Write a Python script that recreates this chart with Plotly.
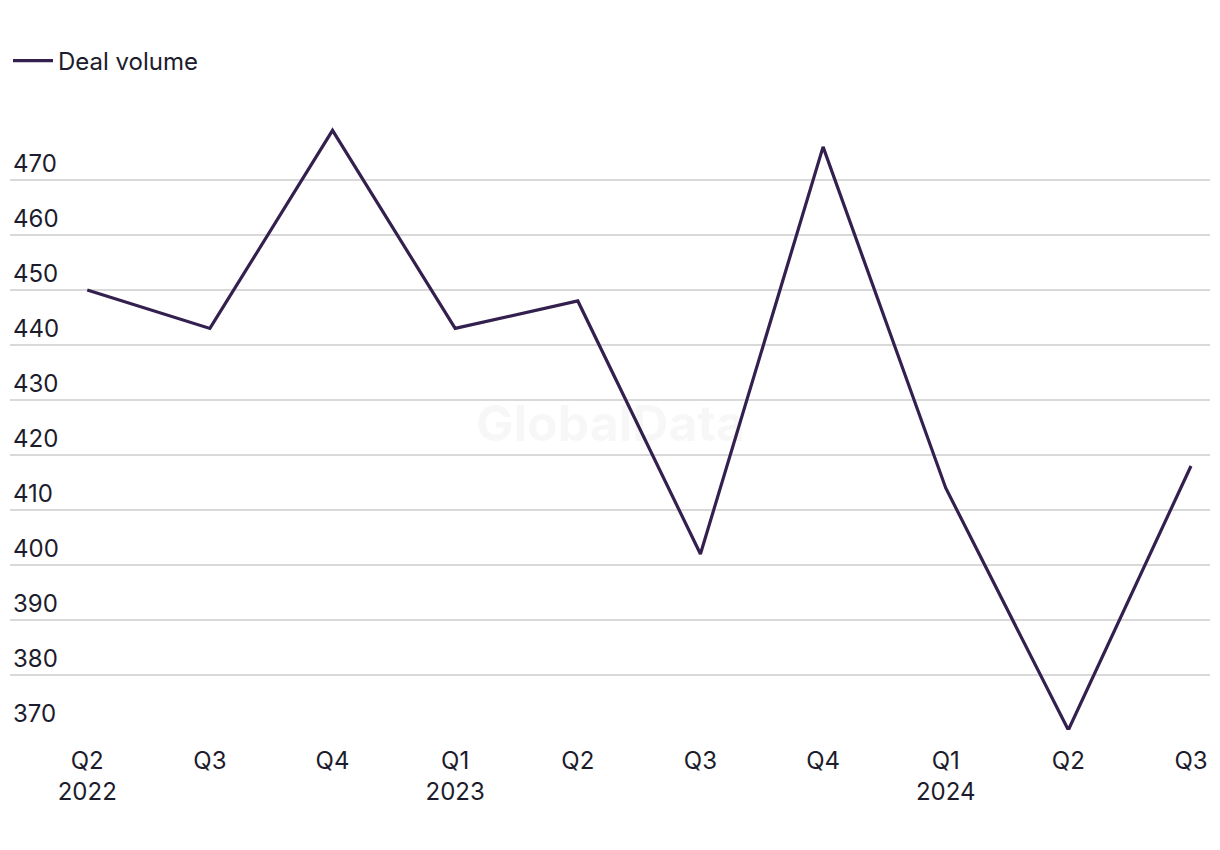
import plotly.graph_objects as go

quarters = ["Q2<br>2022", "Q3", "Q4", "Q1<br>2023", "Q2", "Q3", "Q4", "Q1<br>2024", "Q2", "Q3"]
deal_volume = [450, 443, 479, 443, 448, 402, 476, 414, 370, 418]
y_ticks = [370, 380, 390, 400, 410, 420, 430, 440, 450, 460, 470]

x_idx = list(range(len(quarters)))

fig = go.Figure()
fig.add_trace(go.Scatter(
    x=x_idx, y=deal_volume, mode="lines", name="Deal volume",
    line=dict(color="#33204f", width=3.2),
))

fig.update_layout(
    width=1220, height=850,
    margin=dict(l=2, r=18, t=107, b=128, autoexpand=False),
    paper_bgcolor="white", plot_bgcolor="white",
    font=dict(family="Inter, Liberation Sans, sans-serif", size=24, color="#1c1c2c"),
    showlegend=True,
    legend=dict(x=0, y=1 - 53/850, xref="container", yref="container",
                xanchor="left", yanchor="middle", font=dict(size=24, color="#1c1c2c"),
                itemwidth=40, bgcolor="rgba(0,0,0,0)"),
    xaxis=dict(
        tickmode="array", tickvals=x_idx, ticktext=quarters,
        range=[-0.63, 9.155], showgrid=False, zeroline=False, showline=False,
        ticks="", ticklabelstandoff=14, automargin=False,
        tickfont=dict(color="#1c1c2c"),
    ),
    yaxis=dict(
        tickmode="array", tickvals=y_ticks, ticktext=[str(v) for v in y_ticks],
        range=[370, 481.8], showgrid=True, gridcolor="#d9d9d9", gridwidth=2,
        zeroline=False, showline=False, ticks="", automargin=False,
        ticklabelposition="inside top", ticklabelstandoff=0,
        tickfont=dict(color="#1c1c2c"),
    ),
    annotations=[dict(
        text="<b>GlobalData</b>", x=0.5, y=0.5, xref="paper", yref="paper",
        showarrow=False, font=dict(size=50, color="rgba(0,0,0,0.03)"),
    )],
)

fig.write_html("out.html")
